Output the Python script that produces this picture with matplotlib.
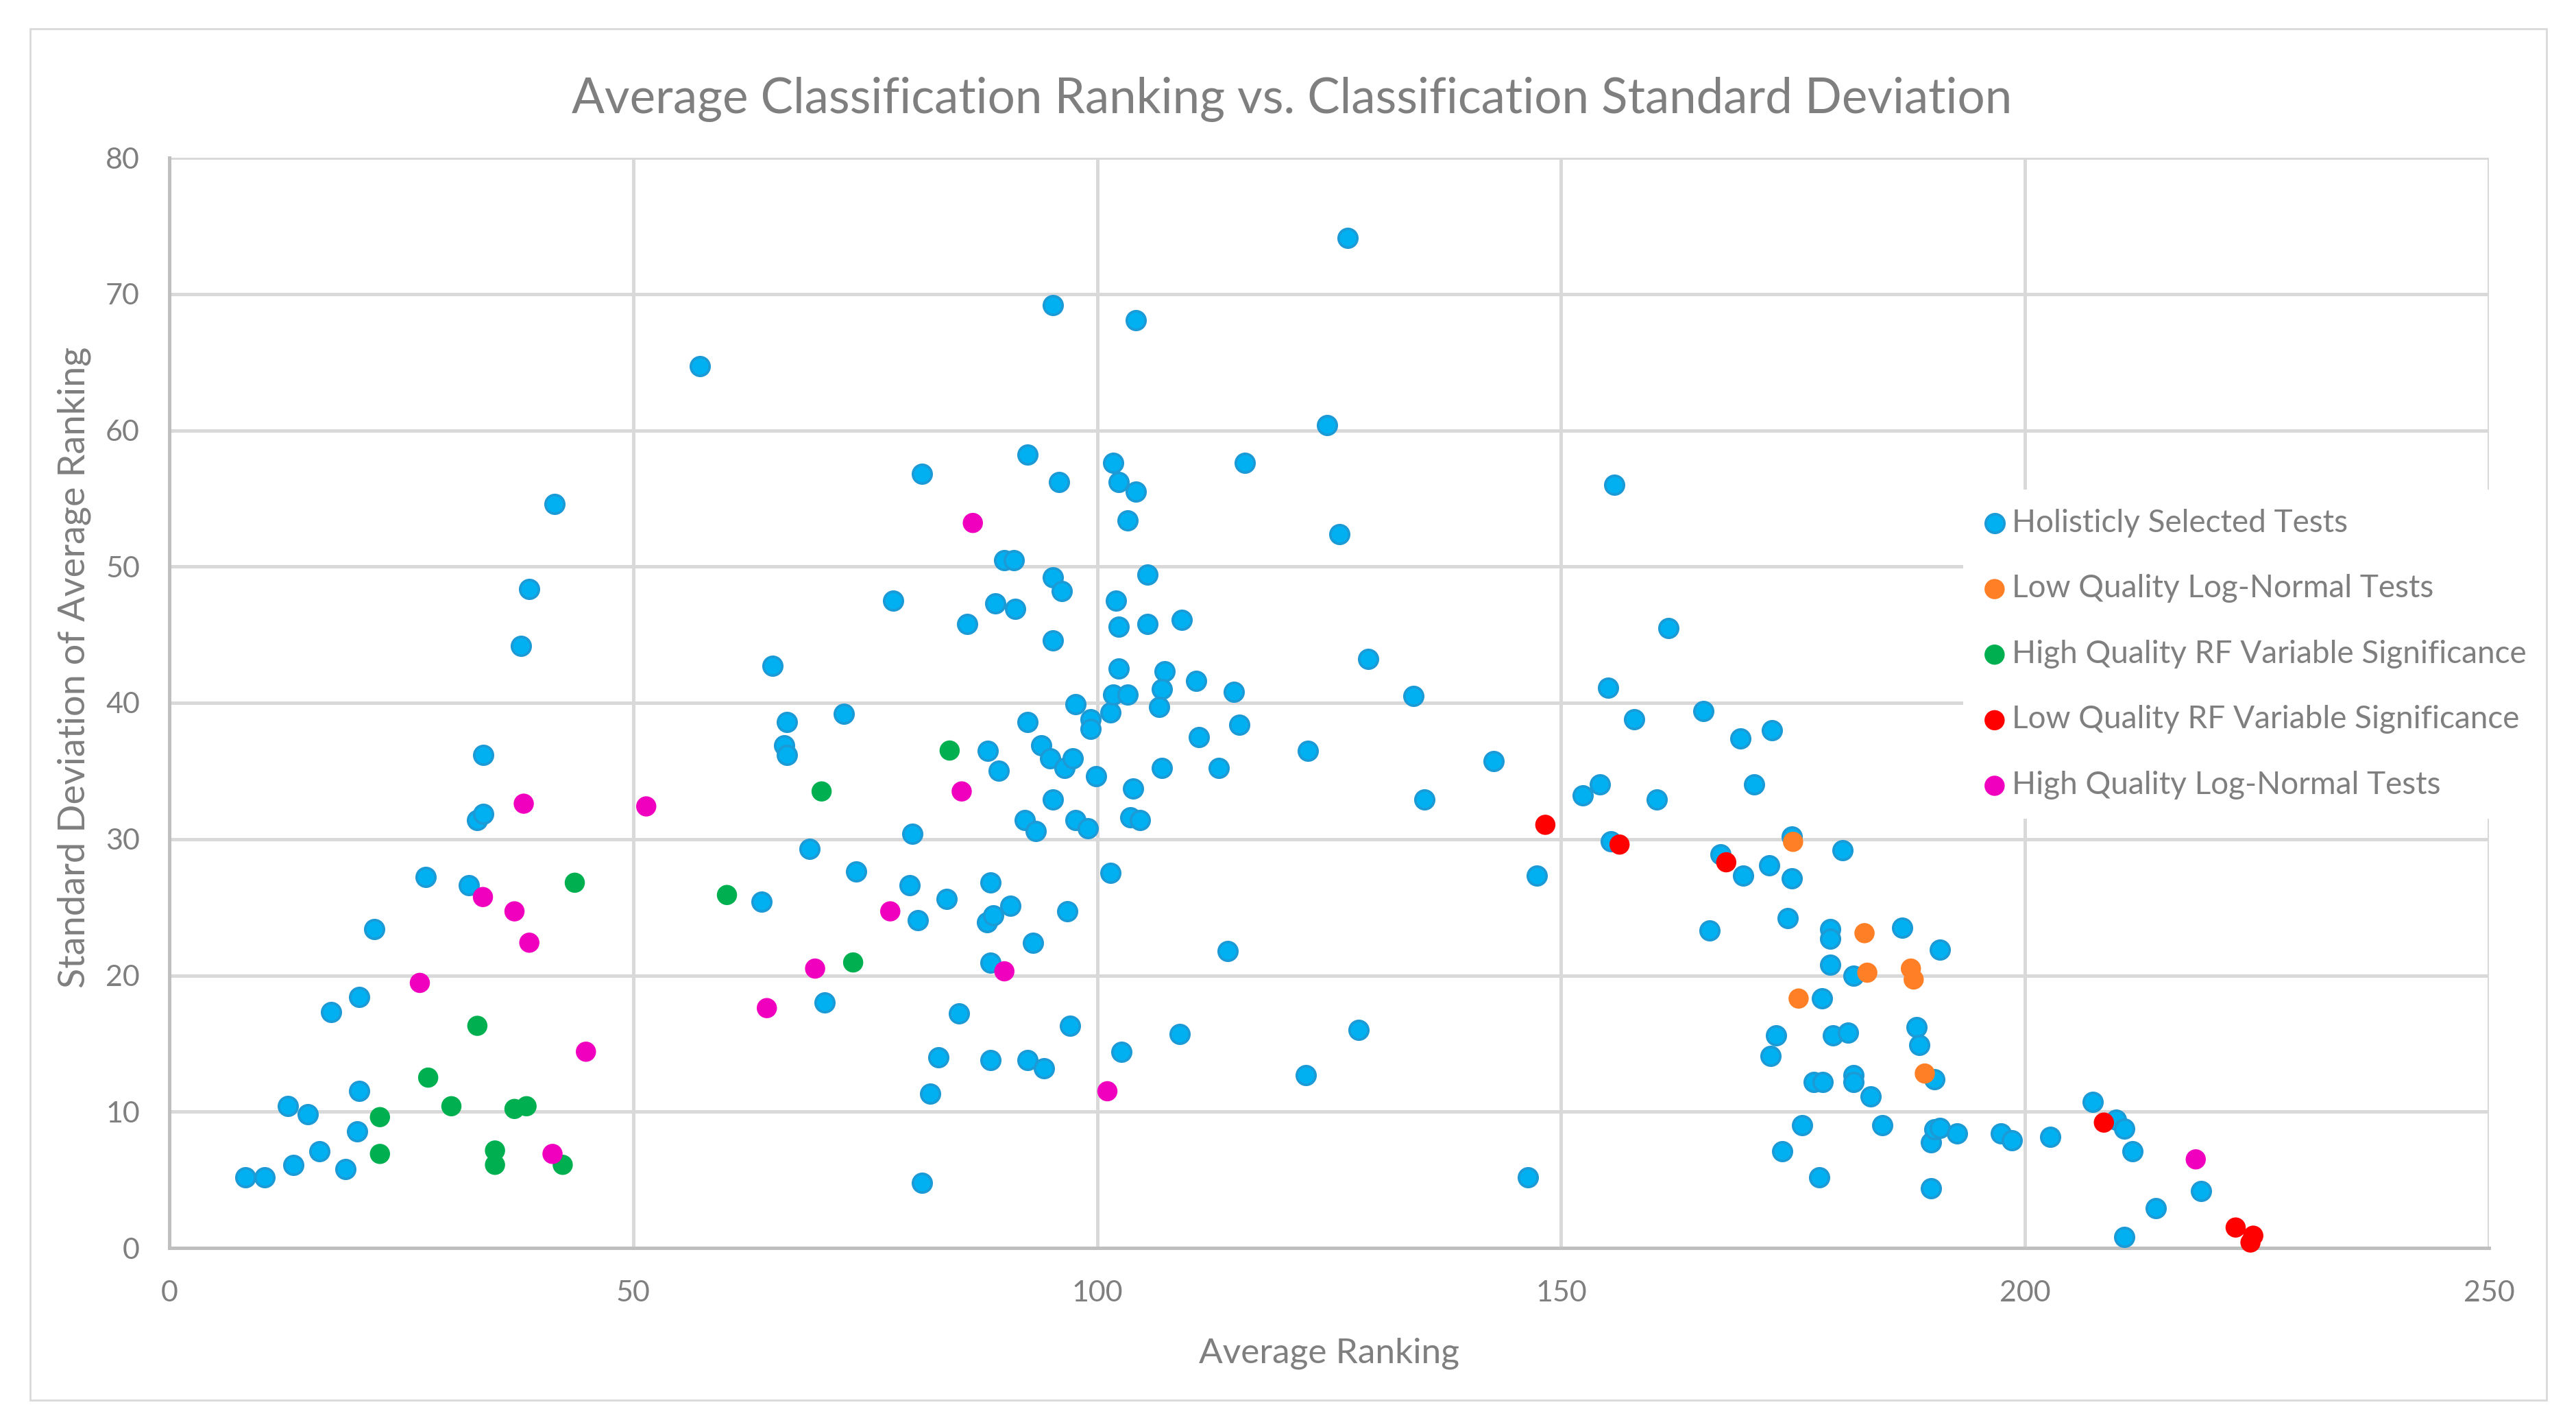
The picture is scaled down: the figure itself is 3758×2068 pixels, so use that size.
import matplotlib
matplotlib.use("Agg")
import matplotlib.pyplot as plt
from matplotlib.patches import Rectangle

# DATA
holistic_x = [8.2, 10.3, 13.4, 12.8, 14.9, 16.2, 19.0, 20.25, 20.5, 17.4, 20.5, 22.1, 27.6, 32.3,
              33.2, 33.8, 33.8, 37.9, 38.8, 41.55, 57.2,
              65.0, 66.6, 66.3, 66.6, 63.8, 69.0, 72.7, 74.0, 70.6, 78.0, 81.1, 80.1, 79.8, 80.7,
              81.1, 82.0, 82.9, 83.8, 85.1, 86.0, 88.2, 89.0, 90.0, 91.0, 91.2, 89.4, 88.5, 88.1,
              88.8, 88.5, 88.5, 90.65, 92.5, 92.5, 92.2, 93.4, 93.1, 92.5, 94.3, 94.0, 95.25, 95.25,
              96.2, 95.9, 95.25, 94.9, 95.25, 96.5, 97.4, 96.8, 97.1, 97.7, 97.7, 99.0, 99.3, 99.3,
              99.9, 101.4, 101.7, 102.3, 104.2, 103.3, 104.2, 105.4, 102.0, 102.3, 105.4, 109.1,
              102.3, 101.4, 101.7, 103.3, 107.3, 107.0, 106.7, 110.7, 114.7, 111.0, 115.3, 107.0,
              113.1, 103.9, 103.6, 104.6, 102.6, 108.9, 114.1, 115.9, 122.7, 122.5,
              124.8, 126.1, 127.0, 128.2, 129.2, 134.1, 135.3, 142.75, 146.4, 147.4, 152.3, 154.2,
              155.1, 155.7, 155.4, 157.9, 160.3, 161.6, 165.3, 166.0, 167.2, 169.3, 169.6, 170.8,
              172.4, 172.7, 174.4, 174.9, 174.9, 172.6, 173.2, 173.8, 176.0, 177.2, 178.2, 177.8,
              178.1, 179.0, 179.0, 179.0, 179.3, 180.3, 180.9, 181.5, 181.5, 181.5, 183.35, 184.6,
              186.75, 188.3, 188.6, 190.2, 190.8, 189.9, 190.2, 190.8, 192.7, 189.9, 197.4, 198.6,
              202.7, 207.3, 209.8, 210.7, 211.6, 210.7, 214.1, 219.0]
holistic_y = [5.2, 5.2, 6.1, 10.4, 9.8, 7.1, 5.8, 8.55, 11.5, 17.3, 18.4, 23.4, 27.2, 26.6,
              31.4, 31.85, 36.2, 44.2, 48.35, 54.6, 64.7,
              42.7, 38.6, 36.9, 36.2, 25.4, 29.3, 39.2, 27.6, 18.0, 47.5, 56.8, 30.4, 26.6, 24.05,
              4.8, 11.3, 14.0, 25.6, 17.2, 45.8, 36.5, 47.3, 50.45, 50.45, 46.9, 35.0, 26.8, 23.9,
              24.4, 20.95, 13.8, 25.1, 58.2, 38.6, 31.4, 30.6, 22.4, 13.8, 13.2, 36.9, 69.2, 49.2,
              48.2, 56.2, 44.6, 35.9, 32.9, 35.2, 35.9, 24.7, 16.3, 39.9, 31.4, 30.8, 38.8, 38.1,
              34.6, 27.5, 57.6, 56.2, 55.5, 53.4, 68.1, 49.4, 47.5, 45.6, 45.8, 46.1,
              42.5, 39.3, 40.6, 40.6, 42.3, 41.0, 39.7, 41.6, 40.8, 37.5, 38.4, 35.2,
              35.2, 33.7, 31.6, 31.4, 14.4, 15.7, 21.8, 57.6, 36.5, 12.7,
              60.4, 52.4, 74.1, 16.0, 43.2, 40.5, 32.9, 35.7, 5.2, 27.3, 33.2, 34.0,
              41.1, 56.0, 29.85, 38.8, 32.9, 45.5, 39.4, 23.3, 28.9, 37.4, 27.3, 34.0,
              28.1, 38.0, 24.2, 30.2, 27.1, 14.1, 15.6, 7.1, 9.0, 12.2, 12.2, 5.2,
              18.3, 23.4, 22.7, 20.8, 15.6, 29.2, 15.8, 20.0, 12.7, 12.2, 11.1, 9.0,
              23.5, 16.2, 14.9, 12.4, 21.9, 7.75, 8.7, 8.8, 8.4, 4.4, 8.4, 7.9,
              8.15, 10.7, 9.4, 8.75, 7.1, 0.8, 2.9, 4.2]

lq_lognormal_x = [175.0, 182.7, 183.0, 175.6, 187.7, 188.0, 189.2]
lq_lognormal_y = [29.8, 23.1, 20.2, 18.3, 20.5, 19.7, 12.8]

hq_rf_x = [84.1, 70.3, 43.7, 60.1, 73.7, 33.2, 27.9, 30.4, 37.2, 38.5, 22.7, 22.7, 35.1, 35.1, 42.4]
hq_rf_y = [36.5, 33.5, 26.8, 25.9, 20.95, 16.3, 12.5, 10.4, 10.2, 10.4, 9.6, 6.9, 7.15, 6.1, 6.1]

lq_rf_x = [148.3, 156.3, 167.8, 208.5, 222.7, 224.6, 224.3]
lq_rf_y = [31.05, 29.6, 28.3, 9.2, 1.5, 0.9, 0.4]

hq_lognormal_x = [86.6, 85.4, 51.4, 38.2, 33.8, 37.2, 38.8, 27.0, 44.9, 41.3, 64.4, 69.6, 77.7,
                  90.0, 101.1, 218.4]
hq_lognormal_y = [53.2, 33.5, 32.4, 32.6, 25.75, 24.7, 22.4, 19.45, 14.4, 6.9, 17.6, 20.5, 24.7,
                  20.3, 11.5, 6.5]

x_ticks = [0, 50, 100, 150, 200, 250]
y_ticks = [0, 10, 20, 30, 40, 50, 60, 70, 80]

# STYLE
plt.rcParams['font.family'] = ['Lato', 'DejaVu Sans']
text_col = '#7F7F7F'
grid_col = '#D9D9D9'

W, H = 3758, 2068
fig = plt.figure(figsize=(W / 100, H / 100), dpi=100)

# chart area border
fig.patches.append(Rectangle((44 / W, 1 - 2042 / H), (3715 - 44) / W, (2042 - 42) / H,
                             transform=fig.transFigure, fill=False, edgecolor=grid_col, lw=2))

ax = fig.add_axes([247 / W, 1 - 1820 / H, (3631 - 247) / W, (1820 - 230) / H])

ax.scatter(holistic_x, holistic_y, s=390, c='#00B0F0', edgecolors='#1C9AD6', linewidths=2.6,
           label='Holisticly Selected Tests', zorder=3, clip_on=False)
ax.scatter(lq_lognormal_x, lq_lognormal_y, s=450, c='#FF7F27', edgecolors='none',
           label='Low Quality Log-Normal Tests', zorder=3, clip_on=False)
ax.scatter(hq_rf_x, hq_rf_y, s=450, c='#00B050', edgecolors='none',
           label='High Quality RF Variable Significance', zorder=3, clip_on=False)
ax.scatter(lq_rf_x, lq_rf_y, s=450, c='#FF0000', edgecolors='none',
           label='Low Quality RF Variable Significance', zorder=3, clip_on=False)
ax.scatter(hq_lognormal_x, hq_lognormal_y, s=450, c='#F000BE', edgecolors='none',
           label='High Quality Log-Normal Tests', zorder=3, clip_on=False)

ax.set_xlim(0, 250)
ax.set_ylim(0, 80)
ax.set_xticks(x_ticks)
ax.set_yticks(y_ticks)
ax.grid(True, color=grid_col, lw=3.6, zorder=0)
ax.set_axisbelow(True)
for side in ['top', 'right']:
    ax.spines[side].set_visible(False)
for side in ['left', 'bottom']:
    ax.spines[side].set_color('#BFBFBF')
    ax.spines[side].set_linewidth(3.6)
    ax.spines[side].set_zorder(1)
ax.tick_params(axis='both', length=0, labelsize=31, labelcolor=text_col)
ax.tick_params(axis='x', pad=34)
ax.tick_params(axis='y', pad=31)

fig.text(1885 / W, 1 - 145 / H,
         'Average Classification Ranking vs. Classification Standard Deviation',
         ha='center', va='center', fontsize=51, color=text_col)
fig.text(1939 / W, 1 - 1974 / H, 'Average Ranking', ha='center', va='center',
         fontsize=37, color=text_col)
fig.text(108 / W, 1 - 973 / H, 'Standard Deviation of Average Ranking', ha='center',
         va='center', rotation=90, fontsize=39, color=text_col)

leg = ax.legend(loc='upper left', bbox_to_anchor=(2864 / W, 1 - 714 / H),
                bbox_transform=fig.transFigure, frameon=True, fancybox=False,
                facecolor='white', edgecolor='none', framealpha=1, fontsize=33,
                labelcolor=text_col, handlelength=0.8, handletextpad=0.15,
                labelspacing=1.17, borderpad=0.6, borderaxespad=0, scatterpoints=1)
leg.set_zorder(5)

fig.savefig('out.png', dpi=100, facecolor='white')
